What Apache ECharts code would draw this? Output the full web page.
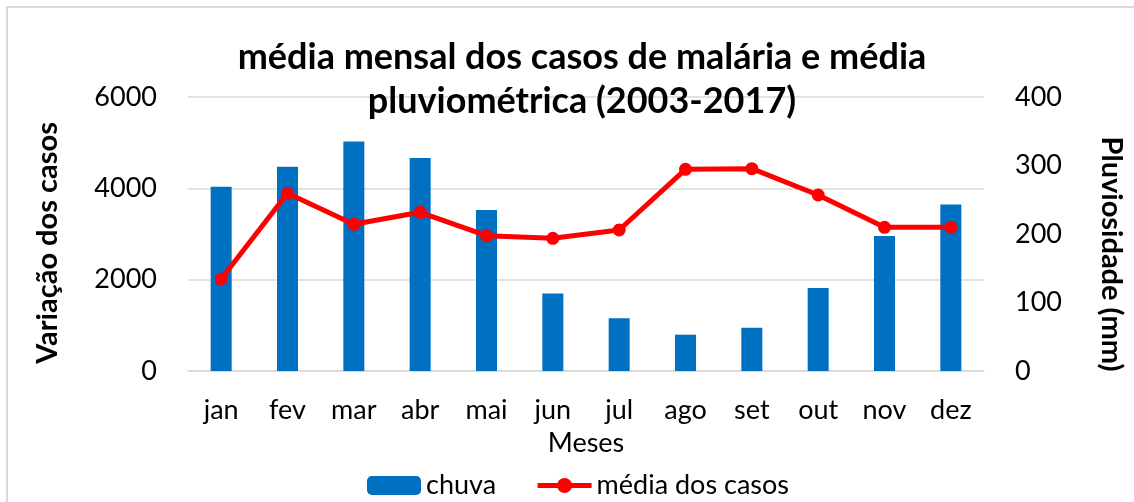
<!DOCTYPE html>
<html>
<head>
<meta charset="utf-8">
<script src="https://cdn.jsdelivr.net/npm/echarts@6/dist/echarts.min.js"></script>
<style>
    html, body { margin: 0; padding: 0; background: #fff; }
    #chart { width: 1134px; height: 502px; }
</style>
</head>
<body>
<div id="chart"></div>
<script>
    // meses
    const meses = ['jan', 'fev', 'mar', 'abr', 'mai', 'jun', 'jul', 'ago', 'set', 'out', 'nov', 'dez']
    // chuva (mm) - eixo direito
    const chuva = [269, 298, 335, 311, 235, 113, 77, 53, 63, 121, 197, 243]
    // média dos casos - eixo esquerdo
    const mediaCasos = [2015, 3891, 3212, 3475, 2963, 2905, 3088, 4416, 4430, 3854, 3147, 3147]
    // eixos
    const casosTicks = { min: 0, max: 6000, interval: 2000 }
    const chuvaTicks = { min: 0, max: 400, interval: 100 }

    const fonte = 'Lato, "Noto Sans", sans-serif'
    const cinza = '#d9d9d9'

    const option = {
        backgroundColor: '#fff',
        textStyle: { fontFamily: fonte },
        title: {
            text: 'média mensal dos casos de malária e média\npluviométrica (2003-2017)',
            left: 577,
            textAlign: 'center',
            top: 30,
            textStyle: {
                fontFamily: fonte,
                fontSize: 36,
                fontWeight: 'bold',
                color: '#000',
                lineHeight: 44
            }
        },
        legend: {
            data: [
                { name: 'chuva' },
                { name: 'média dos casos', lineStyle: { width: 5, color: '#FF0000' } }
            ],
            left: 362,
            top: 467,
            itemWidth: 54,
            itemHeight: 19,
            itemGap: 39,
            textStyle: { fontFamily: fonte, fontSize: 27, color: '#000' }
        },
        grid: {
            left: 188,
            right: 141,
            top: 97,
            bottom: 131
        },
        graphic: [{
            type: 'rect',
            shape: { x: 7, y: 7, width: 1300, height: 700 },
            style: { fill: 'none', stroke: cinza, lineWidth: 2 },
            silent: true
        }],
        xAxis: {
            type: 'category',
            data: meses,
            name: 'Meses',
            nameLocation: 'middle',
            nameGap: 59,
            nameTextStyle: { fontFamily: fonte, fontSize: 27, color: '#000' },
            axisLine: { lineStyle: { color: cinza, width: 1.5 } },
            axisTick: { show: false },
            axisLabel: { fontFamily: fonte, fontSize: 27, color: '#000', margin: 26 }
        },
        yAxis: [
            {
                type: 'value',
                min: casosTicks.min,
                max: casosTicks.max,
                interval: casosTicks.interval,
                name: 'Variação dos casos',
                nameLocation: 'middle',
                nameGap: 126,
                nameTextStyle: {
                    fontFamily: fonte, fontSize: 29, fontWeight: 'bold', color: '#000',
                    padding: [0, 18, 0, 0]
                },
                axisLine: { show: false },
                axisTick: { show: false },
                axisLabel: {
                    fontFamily: fonte, fontSize: 27, color: '#000', margin: 31,
                    formatter: v => String(v)
                },
                splitLine: { lineStyle: { color: cinza, width: 1.5 } }
            },
            {
                type: 'value',
                min: chuvaTicks.min,
                max: chuvaTicks.max,
                interval: chuvaTicks.interval,
                name: 'Pluviosidade (mm)',
                nameLocation: 'middle',
                nameRotate: -90,
                nameGap: 113,
                nameTextStyle: {
                    fontFamily: fonte, fontSize: 29, fontWeight: 'bold', color: '#000',
                    padding: [0, 0, 0, 40]
                },
                axisLine: { show: false },
                axisTick: { show: false },
                axisLabel: {
                    fontFamily: fonte, fontSize: 27, color: '#000', margin: 31,
                    formatter: v => String(v)
                },
                splitLine: { show: false }
            }
        ],
        series: [
            {
                name: 'chuva',
                type: 'bar',
                yAxisIndex: 1,
                data: chuva,
                barWidth: 21,
                itemStyle: { color: '#0070C0' }
            },
            {
                name: 'média dos casos',
                type: 'line',
                yAxisIndex: 0,
                data: mediaCasos,
                symbol: 'circle',
                symbolSize: 13,
                itemStyle: { color: '#FF0000' },
                lineStyle: { color: '#FF0000', width: 5 },
                z: 5
            }
        ]
    }

    const chart = echarts.init(document.getElementById('chart'), null, { renderer: 'canvas' })
    chart.setOption(option)
    window.addEventListener('resize', () => chart.resize())
</script>
</body>
</html>
